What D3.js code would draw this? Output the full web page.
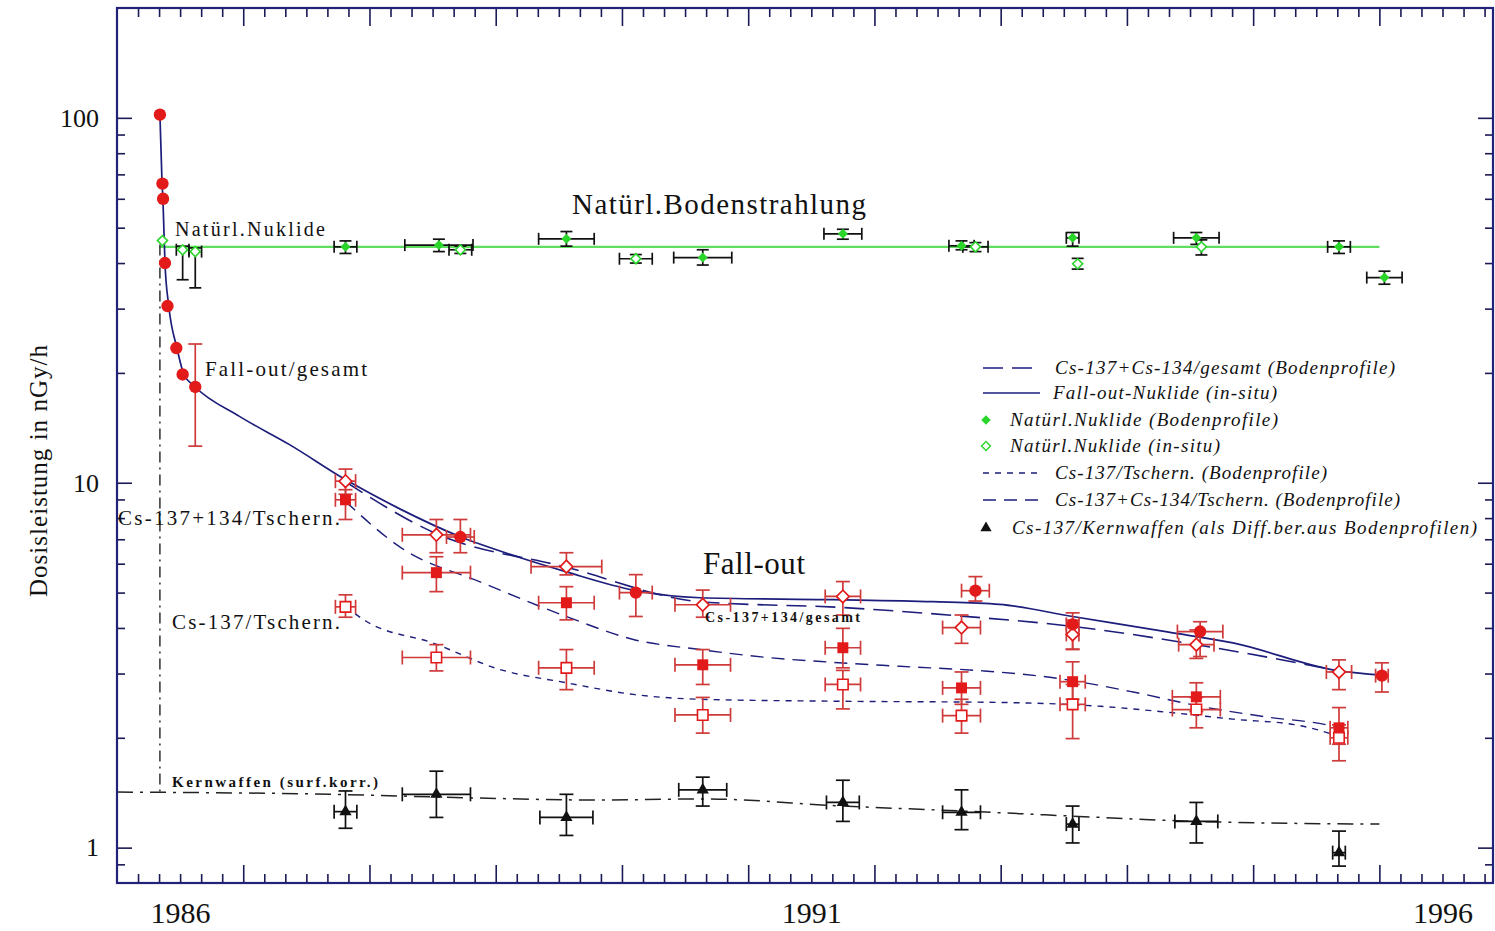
<!DOCTYPE html>
<html>
<head>
<meta charset="utf-8">
<script src="https://cdn.jsdelivr.net/npm/d3@7"></script>
<style>
  body { margin: 0; background: #fff; }
  svg { display: block; }
  text { font-family: "Liberation Serif", "Times New Roman", serif; fill: #111; }
</style>
</head>
<body>
<svg id="chart" width="1495" height="931"></svg>
<script>
// ---- measured series: [year, dose rate nGy/h, half-width in years, lower, upper] ----
const falloutInSitu = [
  [1986.34, 102, 0, null, null], [1986.36, 66, 0, null, null], [1986.365, 60, 0, null, null],
  [1986.38, 40, 0, null, null], [1986.40, 30.5, 0, null, null], [1986.47, 23.4, 0, null, null],
  [1986.52, 19.8, 0, null, null], [1986.62, 18.3, 0, 12.6, 24],
  [1988.72, 7.1, 0.11, 6.43, 7.93], [1990.11, 5.0, 0.13, 4.30, 5.60],
  [1992.80, 5.06, 0.11, 4.74, 5.53], [1993.57, 4.09, 0.05, 3.49, 4.40],
  [1994.58, 3.91, 0.18, 3.34, 4.16], [1996.02, 2.96, 0.05, 2.67, 3.21]
];
const gesamtProfile = [
  [1987.81, 10.1, 0.08, 9.3, 10.9], [1988.53, 7.2, 0.27, 6.43, 7.93],
  [1989.56, 5.89, 0.28, 5.59, 6.43], [1990.64, 4.63, 0.22, 4.28, 5.08],
  [1991.75, 4.88, 0.14, 4.34, 5.36], [1992.69, 4.01, 0.15, 3.63, 4.34],
  [1993.57, 3.84, 0.05, 3.5, 4.2], [1994.55, 3.60, 0.14, 3.3, 3.95],
  [1995.68, 3.03, 0.1, 2.71, 3.27]
];
const tschern134Profile = [
  [1987.81, 8.98, 0.08, 7.93, 9.57], [1988.53, 5.67, 0.27, 5.03, 6.27],
  [1989.56, 4.69, 0.22, 4.21, 5.19], [1990.64, 3.17, 0.22, 2.80, 3.49],
  [1991.75, 3.53, 0.14, 3.11, 3.99], [1992.69, 2.74, 0.15, 2.47, 3.03],
  [1993.57, 2.85, 0.1, 2.55, 3.23], [1994.55, 2.59, 0.19, 2.36, 2.83],
  [1995.68, 2.13, 0.07, 1.92, 2.42]
];
const tschern137Profile = [
  [1987.81, 4.57, 0.08, 4.28, 4.93], [1988.53, 3.32, 0.27, 3.05, 3.60],
  [1989.56, 3.11, 0.22, 2.71, 3.49], [1990.64, 2.31, 0.22, 2.06, 2.58],
  [1991.75, 2.80, 0.14, 2.40, 3.06], [1992.69, 2.30, 0.15, 2.06, 2.55],
  [1993.57, 2.47, 0.1, 1.99, 2.80], [1994.55, 2.39, 0.19, 2.13, 2.58],
  [1995.68, 2.00, 0.07, 1.73, 2.17]
];
const kernwaffen = [
  [1987.81, 1.255, 0.09, 1.13, 1.43], [1988.53, 1.40, 0.27, 1.21, 1.62],
  [1989.56, 1.21, 0.21, 1.08, 1.40], [1990.64, 1.44, 0.19, 1.30, 1.56],
  [1991.75, 1.33, 0.13, 1.18, 1.53], [1992.69, 1.25, 0.15, 1.12, 1.44],
  [1993.57, 1.16, 0.05, 1.03, 1.30], [1994.55, 1.18, 0.17, 1.03, 1.33],
  [1995.68, 0.969, 0.05, 0.89, 1.11]
];
const naturProfile = [
  [1987.81, 44.3, 0.09, 42.5, 46], [1988.55, 44.8, 0.27, 43, 46.5],
  [1989.56, 46.6, 0.22, 44.5, 48.8], [1990.64, 41.4, 0.23, 39.5, 43.5],
  [1991.75, 48.1, 0.15, 46.5, 49.5], [1992.69, 44.6, 0.1, 43.5, 46],
  [1993.57, 46.9, 0.05, 44.5, 48.5], [1994.55, 46.9, 0.18, 45, 48.5],
  [1995.68, 44.3, 0.09, 42.5, 46], [1996.04, 36.5, 0.14, 35, 38]
];
const naturInSitu = [
  [1986.36, 46.1, 0, null, null], [1986.52, 43.5, 0.05, 36, 44.5],
  [1986.62, 43.0, 0.05, 34.2, 44], [1988.72, 43.5, 0.09, 42.5, 44.5],
  [1990.11, 41.1, 0.13, 40, 42.2], [1992.80, 44.3, 0.1, 43, 45.5],
  [1993.61, 39.8, 0, 38.5, 41.2], [1994.59, 44.3, 0, 42.1, 46.3]
];

// ---- fitted curves: [year, dose rate] ----
const falloutCurve = [
  [1986.34, 102], [1986.356, 67.6], [1986.364, 59.6], [1986.38, 40.1], [1986.41, 30.5],
  [1986.475, 23.4], [1986.53, 19.8], [1986.62, 18.3], [1986.97, 15.2], [1987.37, 12.7],
  [1987.81, 10.2], [1988.24, 8.48], [1988.72, 7.11], [1989.19, 6.24], [1989.56, 5.70],
  [1990.09, 5.08], [1990.62, 4.84], [1991.67, 4.78], [1992.46, 4.72], [1992.99, 4.64],
  [1993.57, 4.30], [1994.32, 3.90], [1994.84, 3.64], [1995.68, 3.05], [1996.02, 2.97]
];
const gesamtCurve = [
  [1987.81, 10.06], [1988.53, 7.25], [1989.56, 5.87], [1990.62, 4.72], [1991.75, 4.55],
  [1992.69, 4.31], [1993.57, 4.04], [1994.55, 3.60], [1995.68, 3.05]
];
const tschern134Curve = [
  [1987.81, 8.89], [1988.24, 6.67], [1988.90, 5.31], [1989.56, 4.30], [1990.09, 3.72],
  [1990.62, 3.49], [1991.15, 3.32], [1991.67, 3.22], [1992.20, 3.14], [1992.86, 3.05],
  [1993.39, 2.93], [1994.05, 2.67], [1994.58, 2.44], [1995.11, 2.28], [1995.61, 2.16],
  [1995.68, 2.13]
];
const tschern137Curve = [
  [1987.81, 4.57], [1987.98, 4.16], [1988.50, 3.64], [1989.03, 3.08], [1989.56, 2.83],
  [1990.09, 2.63], [1990.62, 2.55], [1991.67, 2.52], [1992.99, 2.50], [1993.79, 2.44],
  [1994.32, 2.35], [1994.84, 2.25], [1995.37, 2.16], [1995.68, 2.02]
];
const kernwaffenCurve = [
  [1986.0, 1.42], [1987.71, 1.40], [1988.77, 1.37], [1989.83, 1.35], [1990.64, 1.36],
  [1991.75, 1.30], [1992.69, 1.26], [1993.57, 1.22], [1994.55, 1.18], [1996.0, 1.16]
];
const chernobylMarker = [[1986.34, 45], [1986.34, 1.42]];
const naturLevel = [[1986.34, 44.3], [1996.0, 44.3]];

// ---- axis labels ----
const yearLabels = [1986, 1991, 1996];
const yMajorTicks = [1, 10, 100];
const yTickLabels = ["1", "10", "100"];
const yMinorTicks = [0.9, 2, 3, 4, 5, 6, 7, 8, 9, 20, 30, 40, 50, 60, 70, 80, 90];
const legendLabels = [
  "Cs-137+Cs-134/gesamt (Bodenprofile)",
  "Fall-out-Nuklide (in-situ)",
  "Natürl.Nuklide (Bodenprofile)",
  "Natürl.Nuklide (in-situ)",
  "Cs-137/Tschern. (Bodenprofile)",
  "Cs-137+Cs-134/Tschern. (Bodenprofile)",
  "Cs-137/Kernwaffen (als Diff.ber.aus Bodenprofilen)"
];

(function draw() {
const svg = d3.select("#chart");
const pl = 117, pr = 1493, pt = 8, pb = 883;
const x = d3.scaleLinear().domain([1986, 1996.9]).range([pl, pr]);
const y = d3.scaleLog().domain([0.8, 200]).range([pb, pt]);

const navy = "#1d1d7c", red = "#e21a1a", redBar = "#cf3a3a", green = "#2bd62b", greenLine = "#5fde5f";

svg.append("rect").attr("width", 1495).attr("height", 931).attr("fill", "#fff");

svg.append("defs").append("clipPath").attr("id", "plot")
  .append("rect").attr("x", pl).attr("y", pt).attr("width", pr - pl).attr("height", pb - pt);

const plot = svg.append("g").attr("clip-path", "url(#plot)");
const toObj = a => ({ t: a[0], v: a[1], dt: a[2], lo: a[3], hi: a[4] });
const line = d3.line().x(d => x(d[0])).y(d => y(d[1]));
const smooth = d3.line().x(d => x(d[0])).y(d => y(d[1])).curve(d3.curveMonotoneX);

// curves
plot.append("path").datum(naturLevel).attr("d", line)
  .attr("fill", "none").attr("stroke", greenLine).attr("stroke-width", 2.4);
plot.append("path").datum(chernobylMarker).attr("d", line)
  .attr("fill", "none").attr("stroke", "#222").attr("stroke-width", 1.4).attr("stroke-dasharray", "11,5,2,5");
plot.append("path").datum(kernwaffenCurve).attr("d", smooth)
  .attr("fill", "none").attr("stroke", "#222").attr("stroke-width", 1.5).attr("stroke-dasharray", "16,7,3,7");
plot.append("path").datum(tschern137Curve).attr("d", smooth)
  .attr("fill", "none").attr("stroke", navy).attr("stroke-width", 1.4).attr("stroke-dasharray", "6,6");
plot.append("path").datum(tschern134Curve).attr("d", smooth)
  .attr("fill", "none").attr("stroke", navy).attr("stroke-width", 1.4).attr("stroke-dasharray", "13,8");
plot.append("path").datum(gesamtCurve).attr("d", smooth)
  .attr("fill", "none").attr("stroke", navy).attr("stroke-width", 1.6).attr("stroke-dasharray", "20,9");
plot.append("path").datum(falloutCurve).attr("d", smooth)
  .attr("fill", "none").attr("stroke", navy).attr("stroke-width", 1.7);

// error bars with end caps
function errorBars(data, color, cap) {
  const g = plot.append("g").attr("stroke", color).attr("stroke-width", 1.7).attr("fill", "none");
  data.map(toObj).forEach(d => {
    const cx = x(d.t), cy = y(d.v);
    if (d.dt) {
      const x0 = x(d.t - d.dt), x1 = x(d.t + d.dt);
      g.append("line").attr("x1", x0).attr("x2", x1).attr("y1", cy).attr("y2", cy);
      g.append("line").attr("x1", x0).attr("x2", x0).attr("y1", cy - cap).attr("y2", cy + cap);
      g.append("line").attr("x1", x1).attr("x2", x1).attr("y1", cy - cap).attr("y2", cy + cap);
    }
    if (d.lo != null) {
      const y0 = y(d.lo), y1 = y(d.hi);
      g.append("line").attr("x1", cx).attr("x2", cx).attr("y1", y0).attr("y2", y1);
      g.append("line").attr("x1", cx - cap).attr("x2", cx + cap).attr("y1", y0).attr("y2", y0);
      g.append("line").attr("x1", cx - cap).attr("x2", cx + cap).attr("y1", y1).attr("y2", y1);
    }
  });
}

// marker glyphs; "rot" turns a square into an even diamond
function markers(data, type, size, fill, stroke, sw, rot) {
  plot.append("g").selectAll("path").data(data.map(toObj)).join("path")
    .attr("transform", d => `translate(${x(d.t)},${y(d.v)}) rotate(${rot || 0})`)
    .attr("d", d3.symbol().type(type).size(size))
    .attr("fill", fill).attr("stroke", stroke).attr("stroke-width", sw);
}

errorBars(naturProfile, "#111", 6);
errorBars(naturInSitu, "#111", 6);
errorBars(kernwaffen, "#111", 7);
errorBars(tschern137Profile, redBar, 7);
errorBars(tschern134Profile, redBar, 7);
errorBars(gesamtProfile, redBar, 7);
errorBars(falloutInSitu, redBar, 7);

markers(naturProfile, d3.symbolSquare, 50, green, "none", 0, 45);
markers(naturInSitu, d3.symbolSquare, 50, "#fff", green, 1.6, 45);
markers(kernwaffen, d3.symbolTriangle, 65, "#111", "none", 0);
markers(tschern137Profile, d3.symbolSquare, 110, "#fff", red, 1.6);
markers(tschern134Profile, d3.symbolSquare, 120, red, "none", 0);
markers(gesamtProfile, d3.symbolSquare, 80, "#fff", red, 1.7, 45);
markers(falloutInSitu, d3.symbolCircle, 120, red, "none", 0);

// ---- axes (ticks pointing inward) ----
const xMinor = d3.range(0, 66).map(i => 1986 + i / 6).filter(t => t < 1996.9 && Math.abs(t - Math.round(t)) > 1e-6);
const xMajor = d3.range(1987, 1997);
function styleAxis(g) {
  g.select(".domain").remove();
  g.selectAll(".tick line").attr("stroke", "#1a1a55").attr("stroke-width", 1.6);
  return g;
}
svg.append("g").attr("transform", `translate(0,${pb})`)
  .call(d3.axisBottom(x).tickValues(xMinor).tickSize(-9).tickFormat("")).call(styleAxis);
svg.append("g").attr("transform", `translate(0,${pb})`)
  .call(d3.axisBottom(x).tickValues(xMajor).tickSize(-18).tickFormat("")).call(styleAxis);
svg.append("g").attr("transform", `translate(0,${pt})`)
  .call(d3.axisTop(x).tickValues(xMinor).tickSize(-9).tickFormat("")).call(styleAxis);
svg.append("g").attr("transform", `translate(0,${pt})`)
  .call(d3.axisTop(x).tickValues(xMajor).tickSize(-18).tickFormat("")).call(styleAxis);

// year labels sit in the middle of each year
const yearAxis = svg.append("g").attr("transform", `translate(0,${pb})`)
  .call(d3.axisBottom(x).tickValues(yearLabels.map(v => v + 0.5)).tickSize(0).tickPadding(19)
    .tickFormat(d => String(Math.floor(d))));
yearAxis.select(".domain").remove();
yearAxis.selectAll("text").attr("font-size", 30).attr("font-family", "Liberation Serif").attr("fill", "#111");

svg.append("g").attr("transform", `translate(${pl},0)`)
  .call(d3.axisLeft(y).tickValues(yMinorTicks).tickSize(-8).tickFormat("")).call(styleAxis);
const yAxis = svg.append("g").attr("transform", `translate(${pl},0)`)
  .call(d3.axisLeft(y).tickValues(yMajorTicks).tickSize(-15).tickPadding(18)
    .tickFormat((d, i) => yTickLabels[i])).call(styleAxis);
yAxis.selectAll("text").attr("font-size", 26).attr("font-family", "Liberation Serif").attr("fill", "#111");
svg.append("g").attr("transform", `translate(${pr},0)`)
  .call(d3.axisRight(y).tickValues(yMinorTicks).tickSize(-8).tickFormat("")).call(styleAxis);
svg.append("g").attr("transform", `translate(${pr},0)`)
  .call(d3.axisRight(y).tickValues(yMajorTicks).tickSize(-15).tickFormat("")).call(styleAxis);

svg.append("rect").attr("x", pl).attr("y", pt).attr("width", pr - pl).attr("height", pb - pt)
  .attr("fill", "none").attr("stroke", "#22227a").attr("stroke-width", 2.2);

// y axis title
svg.append("text").attr("transform", "translate(47,471) rotate(-90)")
  .attr("text-anchor", "middle").attr("font-size", 25).attr("textLength", 252)
  .text("Dosisleistung in nGy/h");

// ---- annotations ----
function label(txt, px, py, size, len, weight) {
  svg.append("text").attr("x", px).attr("y", py).attr("font-size", size)
    .attr("textLength", len).attr("font-weight", weight || "normal").text(txt);
}
label("Natürl.Nuklide", 175, 236, 20, 150);
label("Natürl.Bodenstrahlung", 572, 214, 29, 294);
label("Fall-out/gesamt", 205, 376, 21, 162);
label("Cs-137+134/Tschern.", 118, 525, 21, 222);
label("Cs-137/Tschern.", 172, 629, 21, 168);
label("Fall-out", 703, 574, 31, 102);
label("Kernwaffen (surf.korr.)", 172, 787, 15, 206, "bold");
label("Cs-137+134/gesamt", 705, 622, 14, 155, "bold");

// ---- legend ----
const leg = svg.append("g");
const legRows = [368, 393, 420, 446, 473, 500, 528];
const legTextX = [1055, 1053, 1010, 1010, 1055, 1055, 1012];
const legLen = [340, 224, 268, 210, 272, 345, 465];
const legDash = ["20,9", null, null, null, "6,6", "13,8", null];
legRows.forEach((ry, i) => {
  if (i === 0 || i === 1 || i === 4 || i === 5) {
    leg.append("line").attr("x1", 983).attr("x2", 1040).attr("y1", ry).attr("y2", ry)
      .attr("stroke", navy).attr("stroke-width", 1.7).attr("stroke-dasharray", legDash[i]);
  }
  leg.append("text").attr("x", legTextX[i]).attr("y", ry + 6).attr("font-size", 19)
    .attr("font-style", "italic").attr("textLength", legLen[i]).text(legendLabels[i]);
});
leg.append("path").attr("transform", `translate(986,${legRows[2]}) rotate(45)`)
  .attr("d", d3.symbol().type(d3.symbolSquare).size(45)).attr("fill", green);
leg.append("path").attr("transform", `translate(986,${legRows[3]}) rotate(45)`)
  .attr("d", d3.symbol().type(d3.symbolSquare).size(40)).attr("fill", "#fff").attr("stroke", green).attr("stroke-width", 1.4);
leg.append("path").attr("transform", `translate(986,${legRows[6]})`)
  .attr("d", d3.symbol().type(d3.symbolTriangle).size(55)).attr("fill", "#111");
})();
</script>
</body>
</html>
